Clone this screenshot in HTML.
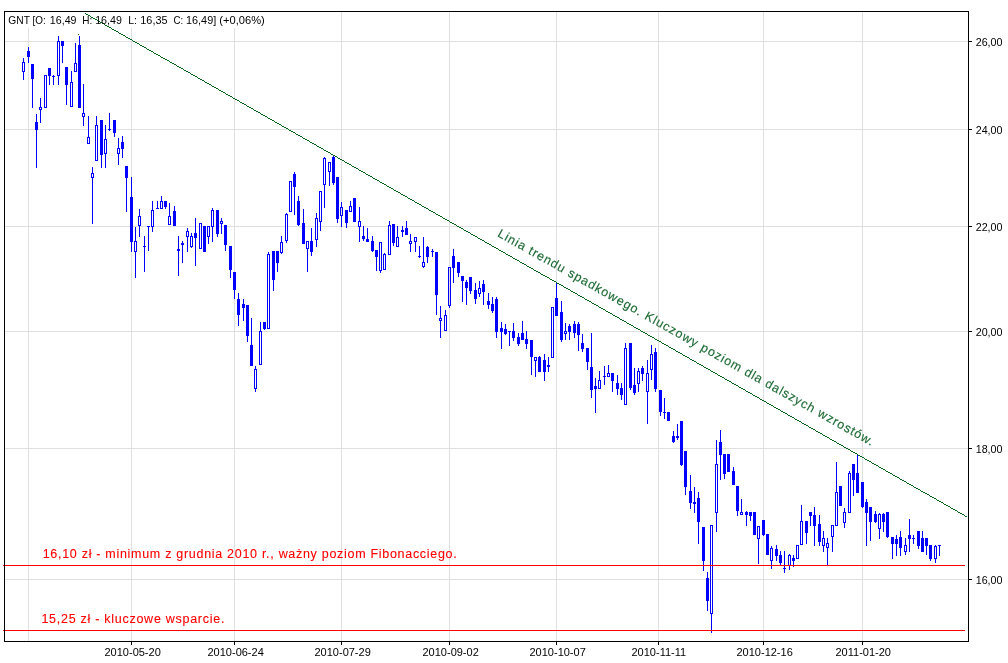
<!DOCTYPE html>
<html><head><meta charset="utf-8"><title>GNT</title>
<style>html,body{margin:0;padding:0;background:#fff;overflow:hidden}body{width:1008px;height:663px;position:relative;font-family:"Liberation Sans",sans-serif}</style>
</head><body>
<svg width="1008" height="663" viewBox="0 0 1008 663" style="position:absolute;left:0;top:0;will-change:transform">
<rect x="0" y="0" width="1008" height="663" fill="#fff"/>
<g shape-rendering="crispEdges" fill="#dfdfdf">
<rect x="5" y="41" width="963" height="1"/>
<rect x="5" y="129" width="963" height="1"/>
<rect x="5" y="226" width="963" height="1"/>
<rect x="5" y="331" width="963" height="1"/>
<rect x="5" y="448" width="963" height="1"/>
<rect x="5" y="579" width="963" height="1"/>
<rect x="28" y="28" width="1" height="613"/>
<rect x="131" y="28" width="1" height="613"/>
<rect x="234" y="28" width="1" height="613"/>
<rect x="341" y="12" width="1" height="629"/>
<rect x="449" y="12" width="1" height="629"/>
<rect x="556" y="12" width="1" height="629"/>
<rect x="658" y="12" width="1" height="629"/>
<rect x="763" y="12" width="1" height="629"/>
<rect x="862" y="12" width="1" height="629"/>
</g>
<rect x="5" y="12" width="262" height="16" fill="#fff"/>
<g shape-rendering="crispEdges" fill="#0000ff">
<rect x="23" y="58" width="1" height="4"/>
<rect x="23" y="72" width="1" height="8"/>
<path d="M22 62h3v10h-3zM23 63v8h1v-8z" fill-rule="evenodd"/>
<rect x="28" y="47" width="1" height="16"/>
<rect x="27" y="51" width="3" height="6"/>
<rect x="32" y="64" width="1" height="44"/>
<rect x="31" y="64" width="3" height="15"/>
<rect x="36" y="114" width="1" height="54"/>
<rect x="35" y="122" width="3" height="8"/>
<rect x="40" y="98" width="1" height="9"/>
<rect x="40" y="110" width="1" height="13"/>
<path d="M39 107h3v3h-3zM40 108v1h1v-1z" fill-rule="evenodd"/>
<path d="M44 75h3v33h-3zM45 76v31h1v-31z" fill-rule="evenodd"/>
<rect x="49" y="68" width="1" height="17"/>
<rect x="48" y="68" width="3" height="8"/>
<rect x="53" y="75" width="1" height="10"/>
<rect x="52" y="76" width="3" height="1"/>
<rect x="58" y="36" width="1" height="5"/>
<rect x="58" y="76" width="1" height="9"/>
<path d="M57 41h3v35h-3zM58 42v33h1v-33z" fill-rule="evenodd"/>
<rect x="62" y="41" width="1" height="22"/>
<rect x="61" y="41" width="3" height="5"/>
<rect x="66" y="67" width="1" height="38"/>
<rect x="65" y="67" width="3" height="18"/>
<rect x="71" y="71" width="1" height="11"/>
<path d="M70 82h3v25h-3zM71 83v23h1v-23z" fill-rule="evenodd"/>
<rect x="75" y="43" width="1" height="20"/>
<path d="M74 63h3v9h-3zM75 64v7h1v-7z" fill-rule="evenodd"/>
<rect x="79" y="36" width="1" height="72"/>
<rect x="78" y="45" width="3" height="63"/>
<rect x="83" y="84" width="1" height="29"/>
<rect x="83" y="117" width="1" height="9"/>
<path d="M82 113h3v4h-3zM83 114v2h1v-2z" fill-rule="evenodd"/>
<rect x="88" y="116" width="1" height="21"/>
<path d="M87 137h3v7h-3zM88 138v5h1v-5z" fill-rule="evenodd"/>
<rect x="92" y="167" width="1" height="6"/>
<rect x="92" y="178" width="1" height="46"/>
<path d="M91 173h3v5h-3zM92 174v3h1v-3z" fill-rule="evenodd"/>
<rect x="96" y="116" width="1" height="9"/>
<path d="M95 125h3v36h-3zM96 126v34h1v-34z" fill-rule="evenodd"/>
<rect x="101" y="120" width="1" height="48"/>
<rect x="100" y="120" width="3" height="35"/>
<rect x="105" y="125" width="1" height="14"/>
<rect x="105" y="154" width="1" height="14"/>
<path d="M104 139h3v15h-3zM105 140v13h1v-13z" fill-rule="evenodd"/>
<rect x="109" y="113" width="1" height="17"/>
<rect x="109" y="130" width="1" height="1"/>
<rect x="108" y="129" width="3" height="1"/>
<rect x="114" y="120" width="1" height="17"/>
<rect x="113" y="120" width="3" height="13"/>
<rect x="118" y="138" width="1" height="10"/>
<rect x="118" y="154" width="1" height="11"/>
<path d="M117 148h3v6h-3zM118 149v4h1v-4z" fill-rule="evenodd"/>
<rect x="122" y="136" width="1" height="22"/>
<rect x="121" y="142" width="3" height="7"/>
<rect x="126" y="166" width="1" height="46"/>
<rect x="125" y="166" width="3" height="12"/>
<rect x="131" y="177" width="1" height="75"/>
<rect x="130" y="197" width="3" height="45"/>
<rect x="135" y="227" width="1" height="14"/>
<rect x="135" y="252" width="1" height="26"/>
<path d="M134 241h3v11h-3zM135 242v9h1v-9z" fill-rule="evenodd"/>
<rect x="139" y="209" width="1" height="7"/>
<rect x="139" y="226" width="1" height="11"/>
<path d="M138 216h3v10h-3zM139 217v8h1v-8z" fill-rule="evenodd"/>
<rect x="144" y="236" width="1" height="36"/>
<rect x="143" y="246" width="3" height="1"/>
<rect x="148" y="226" width="1" height="25"/>
<rect x="147" y="226" width="3" height="1"/>
<rect x="152" y="201" width="1" height="9"/>
<rect x="152" y="227" width="1" height="5"/>
<path d="M151 210h3v17h-3zM152 211v15h1v-15z" fill-rule="evenodd"/>
<rect x="157" y="201" width="1" height="8"/>
<rect x="156" y="208" width="3" height="1"/>
<rect x="161" y="196" width="1" height="5"/>
<path d="M160 201h3v8h-3zM161 202v6h1v-6z" fill-rule="evenodd"/>
<rect x="165" y="201" width="1" height="8"/>
<rect x="164" y="201" width="3" height="6"/>
<rect x="169" y="203" width="1" height="13"/>
<path d="M168 216h3v9h-3zM169 217v7h1v-7z" fill-rule="evenodd"/>
<rect x="174" y="206" width="1" height="20"/>
<rect x="173" y="211" width="3" height="15"/>
<rect x="178" y="236" width="1" height="40"/>
<rect x="177" y="249" width="3" height="2"/>
<rect x="182" y="241" width="1" height="22"/>
<rect x="181" y="243" width="3" height="2"/>
<rect x="187" y="228" width="1" height="3"/>
<rect x="187" y="237" width="1" height="15"/>
<path d="M186 231h3v6h-3zM187 232v4h1v-4z" fill-rule="evenodd"/>
<rect x="191" y="233" width="1" height="3"/>
<rect x="191" y="247" width="1" height="1"/>
<path d="M190 236h3v11h-3zM191 237v9h1v-9z" fill-rule="evenodd"/>
<rect x="195" y="218" width="1" height="48"/>
<rect x="194" y="233" width="3" height="5"/>
<path d="M199 223h3v26h-3zM200 224v24h1v-24z" fill-rule="evenodd"/>
<rect x="204" y="226" width="1" height="26"/>
<rect x="203" y="226" width="3" height="26"/>
<rect x="208" y="237" width="1" height="7"/>
<path d="M207 226h3v11h-3zM208 227v9h1v-9z" fill-rule="evenodd"/>
<rect x="212" y="208" width="1" height="2"/>
<rect x="212" y="227" width="1" height="15"/>
<path d="M211 210h3v17h-3zM212 211v15h1v-15z" fill-rule="evenodd"/>
<rect x="217" y="210" width="1" height="27"/>
<rect x="216" y="210" width="3" height="24"/>
<rect x="221" y="218" width="1" height="3"/>
<rect x="221" y="224" width="1" height="10"/>
<path d="M220 221h3v3h-3zM221 222v1h1v-1z" fill-rule="evenodd"/>
<rect x="225" y="225" width="1" height="26"/>
<rect x="224" y="225" width="3" height="20"/>
<rect x="230" y="246" width="1" height="32"/>
<rect x="229" y="246" width="3" height="24"/>
<rect x="234" y="272" width="1" height="27"/>
<rect x="233" y="272" width="3" height="18"/>
<rect x="238" y="293" width="1" height="33"/>
<rect x="237" y="299" width="3" height="16"/>
<rect x="243" y="299" width="1" height="22"/>
<rect x="242" y="304" width="3" height="4"/>
<rect x="247" y="305" width="1" height="37"/>
<rect x="246" y="305" width="3" height="31"/>
<rect x="251" y="318" width="1" height="48"/>
<rect x="250" y="345" width="3" height="21"/>
<rect x="255" y="366" width="1" height="3"/>
<rect x="255" y="389" width="1" height="3"/>
<path d="M254 369h3v20h-3zM255 370v18h1v-18z" fill-rule="evenodd"/>
<rect x="260" y="322" width="1" height="9"/>
<path d="M259 331h3v34h-3zM260 332v32h1v-32z" fill-rule="evenodd"/>
<rect x="264" y="322" width="1" height="8"/>
<rect x="263" y="322" width="3" height="7"/>
<rect x="268" y="252" width="1" height="2"/>
<path d="M267 254h3v75h-3zM268 255v73h1v-73z" fill-rule="evenodd"/>
<rect x="273" y="251" width="1" height="40"/>
<rect x="272" y="251" width="3" height="29"/>
<rect x="277" y="251" width="1" height="21"/>
<rect x="276" y="251" width="3" height="12"/>
<rect x="281" y="236" width="1" height="6"/>
<rect x="281" y="253" width="1" height="1"/>
<path d="M280 242h3v11h-3zM281 243v9h1v-9z" fill-rule="evenodd"/>
<rect x="286" y="213" width="1" height="1"/>
<rect x="286" y="241" width="1" height="2"/>
<path d="M285 214h3v27h-3zM286 215v25h1v-25z" fill-rule="evenodd"/>
<path d="M289 181h3v31h-3zM290 182v29h1v-29z" fill-rule="evenodd"/>
<rect x="294" y="172" width="1" height="43"/>
<rect x="293" y="174" width="3" height="13"/>
<rect x="298" y="196" width="1" height="30"/>
<rect x="297" y="201" width="3" height="24"/>
<rect x="303" y="209" width="1" height="35"/>
<rect x="302" y="223" width="3" height="21"/>
<rect x="307" y="249" width="1" height="23"/>
<path d="M306 241h3v8h-3zM307 242v6h1v-6z" fill-rule="evenodd"/>
<rect x="311" y="228" width="1" height="28"/>
<rect x="310" y="241" width="3" height="11"/>
<rect x="316" y="213" width="1" height="5"/>
<rect x="316" y="240" width="1" height="7"/>
<path d="M315 218h3v22h-3zM316 219v20h1v-20z" fill-rule="evenodd"/>
<rect x="320" y="222" width="1" height="9"/>
<path d="M319 191h3v31h-3zM320 192v29h1v-29z" fill-rule="evenodd"/>
<rect x="324" y="157" width="1" height="1"/>
<rect x="324" y="185" width="1" height="23"/>
<path d="M323 158h3v27h-3zM324 159v25h1v-25z" fill-rule="evenodd"/>
<rect x="329" y="172" width="1" height="14"/>
<path d="M328 162h3v10h-3zM329 163v8h1v-8z" fill-rule="evenodd"/>
<rect x="333" y="155" width="1" height="30"/>
<rect x="332" y="157" width="3" height="26"/>
<rect x="337" y="177" width="1" height="46"/>
<rect x="336" y="177" width="3" height="42"/>
<rect x="341" y="202" width="1" height="5"/>
<rect x="341" y="216" width="1" height="11"/>
<path d="M340 207h3v9h-3zM341 208v7h1v-7z" fill-rule="evenodd"/>
<rect x="346" y="210" width="1" height="18"/>
<rect x="345" y="210" width="3" height="13"/>
<rect x="350" y="201" width="1" height="5"/>
<path d="M349 206h3v6h-3zM350 207v4h1v-4z" fill-rule="evenodd"/>
<rect x="354" y="198" width="1" height="24"/>
<rect x="353" y="198" width="3" height="24"/>
<rect x="359" y="207" width="1" height="14"/>
<rect x="359" y="227" width="1" height="15"/>
<path d="M358 221h3v6h-3zM359 222v4h1v-4z" fill-rule="evenodd"/>
<rect x="363" y="226" width="1" height="15"/>
<rect x="362" y="236" width="3" height="3"/>
<rect x="367" y="228" width="1" height="14"/>
<rect x="366" y="239" width="3" height="3"/>
<rect x="372" y="236" width="1" height="16"/>
<rect x="371" y="241" width="3" height="10"/>
<rect x="376" y="250" width="1" height="21"/>
<rect x="375" y="250" width="3" height="7"/>
<rect x="380" y="271" width="1" height="2"/>
<path d="M379 242h3v29h-3zM380 243v27h1v-27z" fill-rule="evenodd"/>
<rect x="384" y="253" width="1" height="1"/>
<path d="M383 254h3v16h-3zM384 255v14h1v-14z" fill-rule="evenodd"/>
<rect x="389" y="221" width="1" height="4"/>
<path d="M388 225h3v30h-3zM389 226v28h1v-28z" fill-rule="evenodd"/>
<rect x="393" y="224" width="1" height="22"/>
<rect x="392" y="224" width="3" height="19"/>
<rect x="397" y="226" width="1" height="11"/>
<path d="M396 237h3v10h-3zM397 238v8h1v-8z" fill-rule="evenodd"/>
<rect x="402" y="226" width="1" height="11"/>
<rect x="401" y="230" width="3" height="2"/>
<rect x="406" y="221" width="1" height="14"/>
<rect x="405" y="228" width="3" height="7"/>
<rect x="410" y="234" width="1" height="7"/>
<rect x="410" y="244" width="1" height="8"/>
<path d="M409 241h3v3h-3zM410 242v1h1v-1z" fill-rule="evenodd"/>
<rect x="415" y="242" width="1" height="10"/>
<path d="M414 237h3v5h-3zM415 238v3h1v-3z" fill-rule="evenodd"/>
<rect x="419" y="246" width="1" height="11"/>
<rect x="419" y="257" width="1" height="1"/>
<rect x="418" y="256" width="3" height="1"/>
<rect x="423" y="237" width="1" height="25"/>
<rect x="423" y="267" width="1" height="1"/>
<path d="M422 262h3v5h-3zM423 263v3h1v-3z" fill-rule="evenodd"/>
<rect x="427" y="246" width="1" height="17"/>
<rect x="426" y="247" width="3" height="10"/>
<rect x="432" y="249" width="1" height="8"/>
<rect x="431" y="251" width="3" height="1"/>
<rect x="436" y="252" width="1" height="63"/>
<rect x="435" y="252" width="3" height="43"/>
<rect x="440" y="306" width="1" height="12"/>
<rect x="440" y="321" width="1" height="17"/>
<path d="M439 318h3v3h-3zM440 319v1h1v-1z" fill-rule="evenodd"/>
<rect x="445" y="310" width="1" height="5"/>
<path d="M444 315h3v16h-3zM445 316v14h1v-14z" fill-rule="evenodd"/>
<rect x="449" y="306" width="1" height="2"/>
<path d="M448 267h3v39h-3zM449 268v37h1v-37z" fill-rule="evenodd"/>
<rect x="453" y="249" width="1" height="34"/>
<rect x="452" y="256" width="3" height="12"/>
<rect x="458" y="262" width="1" height="15"/>
<rect x="457" y="262" width="3" height="11"/>
<rect x="462" y="276" width="1" height="26"/>
<rect x="461" y="276" width="3" height="5"/>
<rect x="466" y="280" width="1" height="25"/>
<rect x="465" y="282" width="3" height="6"/>
<rect x="470" y="277" width="1" height="17"/>
<rect x="469" y="277" width="3" height="14"/>
<rect x="475" y="283" width="1" height="21"/>
<rect x="474" y="290" width="3" height="9"/>
<rect x="479" y="281" width="1" height="7"/>
<rect x="479" y="294" width="1" height="3"/>
<path d="M478 288h3v6h-3zM479 289v4h1v-4z" fill-rule="evenodd"/>
<rect x="483" y="280" width="1" height="25"/>
<rect x="482" y="284" width="3" height="8"/>
<rect x="488" y="293" width="1" height="16"/>
<rect x="487" y="301" width="3" height="4"/>
<rect x="492" y="297" width="1" height="16"/>
<rect x="491" y="304" width="3" height="7"/>
<rect x="496" y="297" width="1" height="41"/>
<rect x="495" y="299" width="3" height="33"/>
<rect x="501" y="322" width="1" height="27"/>
<rect x="500" y="328" width="3" height="4"/>
<rect x="505" y="324" width="1" height="11"/>
<rect x="504" y="329" width="3" height="5"/>
<rect x="509" y="331" width="1" height="15"/>
<rect x="508" y="331" width="3" height="1"/>
<rect x="513" y="323" width="1" height="18"/>
<rect x="512" y="331" width="3" height="7"/>
<rect x="518" y="333" width="1" height="13"/>
<rect x="517" y="337" width="3" height="7"/>
<rect x="522" y="321" width="1" height="19"/>
<rect x="521" y="333" width="3" height="7"/>
<rect x="526" y="331" width="1" height="18"/>
<rect x="525" y="339" width="3" height="5"/>
<rect x="531" y="340" width="1" height="35"/>
<rect x="530" y="340" width="3" height="17"/>
<rect x="535" y="361" width="1" height="16"/>
<path d="M534 357h3v4h-3zM535 358v2h1v-2z" fill-rule="evenodd"/>
<rect x="539" y="356" width="1" height="16"/>
<rect x="538" y="357" width="3" height="15"/>
<rect x="544" y="354" width="1" height="27"/>
<rect x="543" y="360" width="3" height="12"/>
<rect x="548" y="357" width="1" height="15"/>
<rect x="547" y="365" width="3" height="2"/>
<path d="M551 307h3v51h-3zM552 308v49h1v-49z" fill-rule="evenodd"/>
<rect x="556" y="283" width="1" height="33"/>
<rect x="555" y="298" width="3" height="18"/>
<rect x="561" y="301" width="1" height="41"/>
<rect x="560" y="312" width="3" height="28"/>
<rect x="565" y="323" width="1" height="8"/>
<rect x="565" y="334" width="1" height="6"/>
<path d="M564 331h3v3h-3zM565 332v1h1v-1z" fill-rule="evenodd"/>
<rect x="569" y="324" width="1" height="16"/>
<rect x="568" y="326" width="3" height="6"/>
<rect x="574" y="321" width="1" height="17"/>
<rect x="573" y="324" width="3" height="9"/>
<rect x="578" y="322" width="1" height="29"/>
<rect x="577" y="324" width="3" height="11"/>
<rect x="582" y="334" width="1" height="18"/>
<rect x="581" y="343" width="3" height="6"/>
<rect x="587" y="348" width="1" height="22"/>
<rect x="586" y="348" width="3" height="14"/>
<rect x="591" y="333" width="1" height="65"/>
<rect x="590" y="367" width="3" height="23"/>
<rect x="595" y="378" width="1" height="35"/>
<rect x="594" y="386" width="3" height="3"/>
<rect x="599" y="371" width="1" height="9"/>
<path d="M598 380h3v9h-3zM599 381v7h1v-7z" fill-rule="evenodd"/>
<rect x="604" y="366" width="1" height="19"/>
<rect x="603" y="376" width="3" height="1"/>
<rect x="608" y="365" width="1" height="8"/>
<path d="M607 373h3v4h-3zM608 374v2h1v-2z" fill-rule="evenodd"/>
<rect x="612" y="373" width="1" height="19"/>
<rect x="611" y="373" width="3" height="8"/>
<rect x="617" y="375" width="1" height="20"/>
<rect x="616" y="383" width="3" height="6"/>
<rect x="621" y="383" width="1" height="17"/>
<rect x="620" y="388" width="3" height="7"/>
<rect x="625" y="343" width="1" height="5"/>
<path d="M624 348h3v57h-3zM625 349v55h1v-55z" fill-rule="evenodd"/>
<rect x="630" y="343" width="1" height="47"/>
<rect x="629" y="343" width="3" height="45"/>
<rect x="634" y="368" width="1" height="27"/>
<rect x="633" y="385" width="3" height="8"/>
<rect x="638" y="368" width="1" height="3"/>
<rect x="638" y="384" width="1" height="8"/>
<path d="M637 371h3v13h-3zM638 372v11h1v-11z" fill-rule="evenodd"/>
<rect x="642" y="366" width="1" height="15"/>
<rect x="641" y="368" width="3" height="6"/>
<rect x="647" y="360" width="1" height="13"/>
<rect x="647" y="392" width="1" height="32"/>
<path d="M646 373h3v19h-3zM647 374v17h1v-17z" fill-rule="evenodd"/>
<rect x="651" y="345" width="1" height="9"/>
<rect x="651" y="370" width="1" height="10"/>
<path d="M650 354h3v16h-3zM651 355v14h1v-14z" fill-rule="evenodd"/>
<rect x="655" y="348" width="1" height="44"/>
<rect x="654" y="352" width="3" height="37"/>
<rect x="660" y="390" width="1" height="26"/>
<rect x="659" y="390" width="3" height="22"/>
<rect x="664" y="398" width="1" height="21"/>
<rect x="663" y="412" width="3" height="1"/>
<rect x="668" y="412" width="1" height="9"/>
<rect x="667" y="412" width="3" height="9"/>
<rect x="673" y="431" width="1" height="12"/>
<rect x="672" y="436" width="3" height="6"/>
<rect x="677" y="424" width="1" height="16"/>
<rect x="676" y="436" width="3" height="2"/>
<rect x="681" y="421" width="1" height="45"/>
<rect x="680" y="421" width="3" height="44"/>
<rect x="685" y="451" width="1" height="44"/>
<rect x="684" y="451" width="3" height="36"/>
<rect x="690" y="475" width="1" height="34"/>
<rect x="689" y="491" width="3" height="12"/>
<rect x="694" y="487" width="1" height="26"/>
<rect x="693" y="502" width="3" height="2"/>
<rect x="698" y="492" width="1" height="52"/>
<rect x="697" y="498" width="3" height="24"/>
<rect x="703" y="527" width="1" height="44"/>
<rect x="702" y="527" width="3" height="34"/>
<rect x="707" y="572" width="1" height="39"/>
<rect x="706" y="578" width="3" height="23"/>
<rect x="711" y="614" width="1" height="19"/>
<path d="M710 525h3v89h-3zM711 526v87h1v-87z" fill-rule="evenodd"/>
<rect x="716" y="440" width="1" height="24"/>
<rect x="716" y="513" width="1" height="19"/>
<path d="M715 464h3v49h-3zM716 465v47h1v-47z" fill-rule="evenodd"/>
<rect x="720" y="430" width="1" height="50"/>
<rect x="719" y="442" width="3" height="13"/>
<rect x="724" y="454" width="1" height="25"/>
<rect x="723" y="454" width="3" height="20"/>
<rect x="728" y="454" width="1" height="18"/>
<rect x="727" y="454" width="3" height="18"/>
<rect x="733" y="467" width="1" height="18"/>
<rect x="732" y="471" width="3" height="14"/>
<rect x="737" y="486" width="1" height="30"/>
<rect x="736" y="486" width="3" height="25"/>
<rect x="741" y="499" width="1" height="13"/>
<path d="M740 512h3v3h-3zM741 513v1h1v-1z" fill-rule="evenodd"/>
<rect x="746" y="511" width="1" height="15"/>
<rect x="745" y="512" width="3" height="3"/>
<rect x="750" y="512" width="1" height="9"/>
<rect x="749" y="512" width="3" height="4"/>
<rect x="754" y="512" width="1" height="23"/>
<rect x="753" y="512" width="3" height="23"/>
<rect x="758" y="539" width="1" height="25"/>
<path d="M757 526h3v13h-3zM758 527v11h1v-11z" fill-rule="evenodd"/>
<rect x="763" y="520" width="1" height="16"/>
<rect x="762" y="520" width="3" height="15"/>
<rect x="767" y="534" width="1" height="21"/>
<rect x="766" y="534" width="3" height="21"/>
<rect x="771" y="546" width="1" height="2"/>
<rect x="771" y="561" width="1" height="8"/>
<path d="M770 548h3v13h-3zM771 549v11h1v-11z" fill-rule="evenodd"/>
<rect x="776" y="545" width="1" height="16"/>
<rect x="775" y="549" width="3" height="7"/>
<rect x="780" y="551" width="1" height="14"/>
<rect x="779" y="555" width="3" height="8"/>
<rect x="784" y="551" width="1" height="22"/>
<rect x="783" y="568" width="3" height="1"/>
<rect x="789" y="554" width="1" height="1"/>
<rect x="789" y="566" width="1" height="4"/>
<path d="M788 555h3v11h-3zM789 556v9h1v-9z" fill-rule="evenodd"/>
<rect x="793" y="555" width="1" height="12"/>
<rect x="792" y="558" width="3" height="3"/>
<path d="M796 545h3v14h-3zM797 546v12h1v-12z" fill-rule="evenodd"/>
<rect x="801" y="505" width="1" height="16"/>
<path d="M800 521h3v24h-3zM801 522v22h1v-22z" fill-rule="evenodd"/>
<rect x="806" y="521" width="1" height="23"/>
<rect x="805" y="521" width="3" height="12"/>
<rect x="810" y="512" width="1" height="14"/>
<rect x="809" y="512" width="3" height="4"/>
<rect x="814" y="507" width="1" height="39"/>
<rect x="813" y="515" width="3" height="11"/>
<rect x="819" y="515" width="1" height="31"/>
<rect x="818" y="524" width="3" height="18"/>
<rect x="823" y="531" width="1" height="7"/>
<rect x="823" y="546" width="1" height="6"/>
<path d="M822 538h3v8h-3zM823 539v6h1v-6z" fill-rule="evenodd"/>
<rect x="827" y="538" width="1" height="5"/>
<rect x="827" y="548" width="1" height="17"/>
<path d="M826 543h3v5h-3zM827 544v3h1v-3z" fill-rule="evenodd"/>
<rect x="832" y="537" width="1" height="15"/>
<path d="M831 525h3v12h-3zM832 526v10h1v-10z" fill-rule="evenodd"/>
<rect x="836" y="462" width="1" height="30"/>
<path d="M835 492h3v34h-3zM836 493v32h1v-32z" fill-rule="evenodd"/>
<rect x="840" y="486" width="1" height="20"/>
<rect x="839" y="486" width="3" height="20"/>
<rect x="844" y="508" width="1" height="4"/>
<rect x="844" y="523" width="1" height="5"/>
<path d="M843 512h3v11h-3zM844 513v9h1v-9z" fill-rule="evenodd"/>
<rect x="849" y="471" width="1" height="2"/>
<path d="M848 473h3v40h-3zM849 474v38h1v-38z" fill-rule="evenodd"/>
<rect x="853" y="464" width="1" height="32"/>
<rect x="852" y="464" width="3" height="16"/>
<rect x="857" y="454" width="1" height="39"/>
<rect x="856" y="473" width="3" height="20"/>
<rect x="862" y="482" width="1" height="26"/>
<rect x="861" y="482" width="3" height="25"/>
<rect x="866" y="499" width="1" height="47"/>
<rect x="865" y="502" width="3" height="11"/>
<rect x="870" y="507" width="1" height="34"/>
<rect x="869" y="507" width="3" height="15"/>
<rect x="875" y="511" width="1" height="12"/>
<rect x="874" y="514" width="3" height="8"/>
<rect x="879" y="513" width="1" height="1"/>
<rect x="879" y="529" width="1" height="10"/>
<path d="M878 514h3v15h-3zM879 515v13h1v-13z" fill-rule="evenodd"/>
<rect x="883" y="513" width="1" height="19"/>
<rect x="882" y="514" width="3" height="8"/>
<rect x="887" y="512" width="1" height="26"/>
<rect x="886" y="512" width="3" height="25"/>
<rect x="892" y="537" width="1" height="22"/>
<rect x="891" y="537" width="3" height="7"/>
<rect x="896" y="535" width="1" height="21"/>
<rect x="895" y="539" width="3" height="5"/>
<rect x="900" y="531" width="1" height="25"/>
<rect x="899" y="537" width="3" height="11"/>
<rect x="905" y="538" width="1" height="7"/>
<rect x="905" y="552" width="1" height="3"/>
<path d="M904 545h3v7h-3zM905 546v5h1v-5z" fill-rule="evenodd"/>
<rect x="909" y="519" width="1" height="33"/>
<rect x="908" y="535" width="3" height="4"/>
<rect x="913" y="535" width="1" height="9"/>
<rect x="912" y="538" width="3" height="1"/>
<rect x="918" y="531" width="1" height="18"/>
<rect x="917" y="531" width="3" height="15"/>
<rect x="922" y="531" width="1" height="21"/>
<rect x="921" y="538" width="3" height="14"/>
<rect x="926" y="538" width="1" height="17"/>
<rect x="925" y="538" width="3" height="8"/>
<rect x="930" y="545" width="1" height="16"/>
<rect x="929" y="545" width="3" height="14"/>
<rect x="935" y="545" width="1" height="1"/>
<rect x="935" y="559" width="1" height="4"/>
<path d="M934 546h3v13h-3zM935 547v11h1v-11z" fill-rule="evenodd"/>
<rect x="939" y="545" width="1" height="11"/>
<rect x="938" y="545" width="3" height="1"/>
</g>
<path d="M85 13h1v1h-1zM86 14h2v1h-2zM88 15h2v1h-2zM90 16h1v1h-1zM91 17h2v1h-2zM93 18h2v1h-2zM95 19h2v1h-2zM97 20h1v1h-1zM98 21h2v1h-2zM100 22h2v1h-2zM102 23h2v1h-2zM104 24h1v1h-1zM105 25h2v1h-2zM107 26h2v1h-2zM109 27h2v1h-2zM111 28h1v1h-1zM112 29h2v1h-2zM114 30h2v1h-2zM116 31h2v1h-2zM118 32h1v1h-1zM119 33h2v1h-2zM121 34h2v1h-2zM123 35h2v1h-2zM125 36h1v1h-1zM126 37h2v1h-2zM128 38h2v1h-2zM130 39h2v1h-2zM132 40h1v1h-1zM133 41h2v1h-2zM135 42h2v1h-2zM137 43h2v1h-2zM139 44h1v1h-1zM140 45h2v1h-2zM142 46h2v1h-2zM144 47h2v1h-2zM146 48h1v1h-1zM147 49h2v1h-2zM149 50h2v1h-2zM151 51h2v1h-2zM153 52h1v1h-1zM154 53h2v1h-2zM156 54h2v1h-2zM158 55h2v1h-2zM160 56h1v1h-1zM161 57h2v1h-2zM163 58h2v1h-2zM165 59h2v1h-2zM167 60h2v1h-2zM169 61h1v1h-1zM170 62h2v1h-2zM172 63h2v1h-2zM174 64h2v1h-2zM176 65h1v1h-1zM177 66h2v1h-2zM179 67h2v1h-2zM181 68h2v1h-2zM183 69h1v1h-1zM184 70h2v1h-2zM186 71h2v1h-2zM188 72h2v1h-2zM190 73h1v1h-1zM191 74h2v1h-2zM193 75h2v1h-2zM195 76h2v1h-2zM197 77h1v1h-1zM198 78h2v1h-2zM200 79h2v1h-2zM202 80h2v1h-2zM204 81h1v1h-1zM205 82h2v1h-2zM207 83h2v1h-2zM209 84h2v1h-2zM211 85h1v1h-1zM212 86h2v1h-2zM214 87h2v1h-2zM216 88h2v1h-2zM218 89h1v1h-1zM219 90h2v1h-2zM221 91h2v1h-2zM223 92h2v1h-2zM225 93h1v1h-1zM226 94h2v1h-2zM228 95h2v1h-2zM230 96h2v1h-2zM232 97h1v1h-1zM233 98h2v1h-2zM235 99h2v1h-2zM237 100h2v1h-2zM239 101h1v1h-1zM240 102h2v1h-2zM242 103h2v1h-2zM244 104h2v1h-2zM246 105h1v1h-1zM247 106h2v1h-2zM249 107h2v1h-2zM251 108h2v1h-2zM253 109h1v1h-1zM254 110h2v1h-2zM256 111h2v1h-2zM258 112h2v1h-2zM260 113h1v1h-1zM261 114h2v1h-2zM263 115h2v1h-2zM265 116h2v1h-2zM267 117h1v1h-1zM268 118h2v1h-2zM270 119h2v1h-2zM272 120h2v1h-2zM274 121h1v1h-1zM275 122h2v1h-2zM277 123h2v1h-2zM279 124h2v1h-2zM281 125h1v1h-1zM282 126h2v1h-2zM284 127h2v1h-2zM286 128h2v1h-2zM288 129h1v1h-1zM289 130h2v1h-2zM291 131h2v1h-2zM293 132h2v1h-2zM295 133h1v1h-1zM296 134h2v1h-2zM298 135h2v1h-2zM300 136h2v1h-2zM302 137h1v1h-1zM303 138h2v1h-2zM305 139h2v1h-2zM307 140h2v1h-2zM309 141h1v1h-1zM310 142h2v1h-2zM312 143h2v1h-2zM314 144h2v1h-2zM316 145h1v1h-1zM317 146h2v1h-2zM319 147h2v1h-2zM321 148h2v1h-2zM323 149h1v1h-1zM324 150h2v1h-2zM326 151h2v1h-2zM328 152h2v1h-2zM330 153h1v1h-1zM331 154h2v1h-2zM333 155h2v1h-2zM335 156h2v1h-2zM337 157h1v1h-1zM338 158h2v1h-2zM340 159h2v1h-2zM342 160h2v1h-2zM344 161h1v1h-1zM345 162h2v1h-2zM347 163h2v1h-2zM349 164h2v1h-2zM351 165h1v1h-1zM352 166h2v1h-2zM354 167h2v1h-2zM356 168h2v1h-2zM358 169h1v1h-1zM359 170h2v1h-2zM361 171h2v1h-2zM363 172h2v1h-2zM365 173h1v1h-1zM366 174h2v1h-2zM368 175h2v1h-2zM370 176h2v1h-2zM372 177h1v1h-1zM373 178h2v1h-2zM375 179h2v1h-2zM377 180h2v1h-2zM379 181h1v1h-1zM380 182h2v1h-2zM382 183h2v1h-2zM384 184h2v1h-2zM386 185h1v1h-1zM387 186h2v1h-2zM389 187h2v1h-2zM391 188h2v1h-2zM393 189h1v1h-1zM394 190h2v1h-2zM396 191h2v1h-2zM398 192h2v1h-2zM400 193h1v1h-1zM401 194h2v1h-2zM403 195h2v1h-2zM405 196h2v1h-2zM407 197h1v1h-1zM408 198h2v1h-2zM410 199h2v1h-2zM412 200h2v1h-2zM414 201h1v1h-1zM415 202h2v1h-2zM417 203h2v1h-2zM419 204h2v1h-2zM421 205h1v1h-1zM422 206h2v1h-2zM424 207h2v1h-2zM426 208h2v1h-2zM428 209h1v1h-1zM429 210h2v1h-2zM431 211h2v1h-2zM433 212h2v1h-2zM435 213h1v1h-1zM436 214h2v1h-2zM438 215h2v1h-2zM440 216h2v1h-2zM442 217h1v1h-1zM443 218h2v1h-2zM445 219h2v1h-2zM447 220h2v1h-2zM449 221h1v1h-1zM450 222h2v1h-2zM452 223h2v1h-2zM454 224h2v1h-2zM456 225h1v1h-1zM457 226h2v1h-2zM459 227h2v1h-2zM461 228h2v1h-2zM463 229h1v1h-1zM464 230h2v1h-2zM466 231h2v1h-2zM468 232h2v1h-2zM470 233h1v1h-1zM471 234h2v1h-2zM473 235h2v1h-2zM475 236h2v1h-2zM477 237h1v1h-1zM478 238h2v1h-2zM480 239h2v1h-2zM482 240h2v1h-2zM484 241h1v1h-1zM485 242h2v1h-2zM487 243h2v1h-2zM489 244h2v1h-2zM491 245h1v1h-1zM492 246h2v1h-2zM494 247h2v1h-2zM496 248h2v1h-2zM498 249h1v1h-1zM499 250h2v1h-2zM501 251h2v1h-2zM503 252h2v1h-2zM505 253h1v1h-1zM506 254h2v1h-2zM508 255h2v1h-2zM510 256h2v1h-2zM512 257h1v1h-1zM513 258h2v1h-2zM515 259h2v1h-2zM517 260h2v1h-2zM519 261h1v1h-1zM520 262h2v1h-2zM522 263h2v1h-2zM524 264h2v1h-2zM526 265h1v1h-1zM527 266h2v1h-2zM529 267h2v1h-2zM531 268h2v1h-2zM533 269h1v1h-1zM534 270h2v1h-2zM536 271h2v1h-2zM538 272h2v1h-2zM540 273h1v1h-1zM541 274h2v1h-2zM543 275h2v1h-2zM545 276h2v1h-2zM547 277h2v1h-2zM549 278h1v1h-1zM550 279h2v1h-2zM552 280h2v1h-2zM554 281h2v1h-2zM556 282h1v1h-1zM557 283h2v1h-2zM559 284h2v1h-2zM561 285h2v1h-2zM563 286h1v1h-1zM564 287h2v1h-2zM566 288h2v1h-2zM568 289h2v1h-2zM570 290h1v1h-1zM571 291h2v1h-2zM573 292h2v1h-2zM575 293h2v1h-2zM577 294h1v1h-1zM578 295h2v1h-2zM580 296h2v1h-2zM582 297h2v1h-2zM584 298h1v1h-1zM585 299h2v1h-2zM587 300h2v1h-2zM589 301h2v1h-2zM591 302h1v1h-1zM592 303h2v1h-2zM594 304h2v1h-2zM596 305h2v1h-2zM598 306h1v1h-1zM599 307h2v1h-2zM601 308h2v1h-2zM603 309h2v1h-2zM605 310h1v1h-1zM606 311h2v1h-2zM608 312h2v1h-2zM610 313h2v1h-2zM612 314h1v1h-1zM613 315h2v1h-2zM615 316h2v1h-2zM617 317h2v1h-2zM619 318h1v1h-1zM620 319h2v1h-2zM622 320h2v1h-2zM624 321h2v1h-2zM626 322h1v1h-1zM627 323h2v1h-2zM629 324h2v1h-2zM631 325h2v1h-2zM633 326h1v1h-1zM634 327h2v1h-2zM636 328h2v1h-2zM638 329h2v1h-2zM640 330h1v1h-1zM641 331h2v1h-2zM643 332h2v1h-2zM645 333h2v1h-2zM647 334h1v1h-1zM648 335h2v1h-2zM650 336h2v1h-2zM652 337h2v1h-2zM654 338h1v1h-1zM655 339h2v1h-2zM657 340h2v1h-2zM659 341h2v1h-2zM661 342h1v1h-1zM662 343h2v1h-2zM664 344h2v1h-2zM666 345h2v1h-2zM668 346h1v1h-1zM669 347h2v1h-2zM671 348h2v1h-2zM673 349h2v1h-2zM675 350h1v1h-1zM676 351h2v1h-2zM678 352h2v1h-2zM680 353h2v1h-2zM682 354h1v1h-1zM683 355h2v1h-2zM685 356h2v1h-2zM687 357h2v1h-2zM689 358h1v1h-1zM690 359h2v1h-2zM692 360h2v1h-2zM694 361h2v1h-2zM696 362h1v1h-1zM697 363h2v1h-2zM699 364h2v1h-2zM701 365h2v1h-2zM703 366h1v1h-1zM704 367h2v1h-2zM706 368h2v1h-2zM708 369h2v1h-2zM710 370h1v1h-1zM711 371h2v1h-2zM713 372h2v1h-2zM715 373h2v1h-2zM717 374h1v1h-1zM718 375h2v1h-2zM720 376h2v1h-2zM722 377h2v1h-2zM724 378h1v1h-1zM725 379h2v1h-2zM727 380h2v1h-2zM729 381h2v1h-2zM731 382h1v1h-1zM732 383h2v1h-2zM734 384h2v1h-2zM736 385h2v1h-2zM738 386h1v1h-1zM739 387h2v1h-2zM741 388h2v1h-2zM743 389h2v1h-2zM745 390h1v1h-1zM746 391h2v1h-2zM748 392h2v1h-2zM750 393h2v1h-2zM752 394h1v1h-1zM753 395h2v1h-2zM755 396h2v1h-2zM757 397h2v1h-2zM759 398h1v1h-1zM760 399h2v1h-2zM762 400h2v1h-2zM764 401h2v1h-2zM766 402h1v1h-1zM767 403h2v1h-2zM769 404h2v1h-2zM771 405h2v1h-2zM773 406h1v1h-1zM774 407h2v1h-2zM776 408h2v1h-2zM778 409h2v1h-2zM780 410h1v1h-1zM781 411h2v1h-2zM783 412h2v1h-2zM785 413h2v1h-2zM787 414h1v1h-1zM788 415h2v1h-2zM790 416h2v1h-2zM792 417h2v1h-2zM794 418h1v1h-1zM795 419h2v1h-2zM797 420h2v1h-2zM799 421h2v1h-2zM801 422h1v1h-1zM802 423h2v1h-2zM804 424h2v1h-2zM806 425h2v1h-2zM808 426h1v1h-1zM809 427h2v1h-2zM811 428h2v1h-2zM813 429h2v1h-2zM815 430h1v1h-1zM816 431h2v1h-2zM818 432h2v1h-2zM820 433h2v1h-2zM822 434h1v1h-1zM823 435h2v1h-2zM825 436h2v1h-2zM827 437h2v1h-2zM829 438h1v1h-1zM830 439h2v1h-2zM832 440h2v1h-2zM834 441h2v1h-2zM836 442h1v1h-1zM837 443h2v1h-2zM839 444h2v1h-2zM841 445h2v1h-2zM843 446h1v1h-1zM844 447h2v1h-2zM846 448h2v1h-2zM848 449h2v1h-2zM850 450h1v1h-1zM851 451h2v1h-2zM853 452h2v1h-2zM855 453h2v1h-2zM857 454h1v1h-1zM858 455h2v1h-2zM860 456h2v1h-2zM862 457h2v1h-2zM864 458h1v1h-1zM865 459h2v1h-2zM867 460h2v1h-2zM869 461h2v1h-2zM871 462h1v1h-1zM872 463h2v1h-2zM874 464h2v1h-2zM876 465h2v1h-2zM878 466h1v1h-1zM879 467h2v1h-2zM881 468h2v1h-2zM883 469h2v1h-2zM885 470h1v1h-1zM886 471h2v1h-2zM888 472h2v1h-2zM890 473h2v1h-2zM892 474h1v1h-1zM893 475h2v1h-2zM895 476h2v1h-2zM897 477h2v1h-2zM899 478h1v1h-1zM900 479h2v1h-2zM902 480h2v1h-2zM904 481h2v1h-2zM906 482h1v1h-1zM907 483h2v1h-2zM909 484h2v1h-2zM911 485h2v1h-2zM913 486h1v1h-1zM914 487h2v1h-2zM916 488h2v1h-2zM918 489h2v1h-2zM920 490h1v1h-1zM921 491h2v1h-2zM923 492h2v1h-2zM925 493h2v1h-2zM927 494h2v1h-2zM929 495h1v1h-1zM930 496h2v1h-2zM932 497h2v1h-2zM934 498h2v1h-2zM936 499h1v1h-1zM937 500h2v1h-2zM939 501h2v1h-2zM941 502h2v1h-2zM943 503h1v1h-1zM944 504h2v1h-2zM946 505h2v1h-2zM948 506h2v1h-2zM950 507h1v1h-1zM951 508h2v1h-2zM953 509h2v1h-2zM955 510h2v1h-2zM957 511h1v1h-1zM958 512h2v1h-2zM960 513h2v1h-2zM962 514h2v1h-2zM964 515h1v1h-1zM965 516h2v1h-2z" fill="#00641a" shape-rendering="crispEdges"/>
<rect x="78" y="34" width="1" height="1" fill="#00641a"/>
<g shape-rendering="crispEdges" fill="#ff0000">
<rect x="3" y="565" width="962" height="1"/>
<rect x="3" y="630" width="962" height="1"/>
</g>
<g shape-rendering="crispEdges" fill="#000">
<rect x="4" y="11" width="965" height="1"/>
<rect x="4" y="641" width="965" height="1"/>
<rect x="4" y="11" width="1" height="631"/>
<rect x="968" y="11" width="1" height="631"/>
<rect x="969" y="41" width="3" height="1"/>
<rect x="969" y="129" width="3" height="1"/>
<rect x="969" y="226" width="3" height="1"/>
<rect x="969" y="331" width="3" height="1"/>
<rect x="969" y="448" width="3" height="1"/>
<rect x="969" y="579" width="3" height="1"/>
<rect x="131" y="642" width="1" height="3"/>
<rect x="234" y="642" width="1" height="3"/>
<rect x="341" y="642" width="1" height="3"/>
<rect x="449" y="642" width="1" height="3"/>
<rect x="556" y="642" width="1" height="3"/>
<rect x="658" y="642" width="1" height="3"/>
<rect x="763" y="642" width="1" height="3"/>
<rect x="862" y="642" width="1" height="3"/>
</g>
<g font-family="Liberation Sans, sans-serif" font-size="11px" fill="#000">
<text x="8.3" y="24" textLength="21.6" lengthAdjust="spacingAndGlyphs">GNT</text>
<text x="32.5" y="24" textLength="13.2" lengthAdjust="spacingAndGlyphs">[O:</text>
<text x="49.8" y="24" textLength="26.7" lengthAdjust="spacingAndGlyphs">16,49</text>
<text x="82.3" y="24" textLength="10" lengthAdjust="spacingAndGlyphs">H:</text>
<text x="95.2" y="24" textLength="26.7" lengthAdjust="spacingAndGlyphs">16,49</text>
<text x="128.2" y="24" textLength="8.8" lengthAdjust="spacingAndGlyphs">L:</text>
<text x="140.3" y="24" textLength="27.2" lengthAdjust="spacingAndGlyphs">16,35</text>
<text x="173.6" y="24" textLength="9.7" lengthAdjust="spacingAndGlyphs">C:</text>
<text x="186" y="24" textLength="30.2" lengthAdjust="spacingAndGlyphs">16,49]</text>
<text x="219.3" y="24" textLength="45.5" lengthAdjust="spacingAndGlyphs">(+0,06%)</text>
<text x="975.7" y="46" textLength="26.8" lengthAdjust="spacingAndGlyphs">26,00</text>
<text x="975.7" y="134" textLength="26.8" lengthAdjust="spacingAndGlyphs">24,00</text>
<text x="975.7" y="231" textLength="26.8" lengthAdjust="spacingAndGlyphs">22,00</text>
<text x="975.7" y="336" textLength="26.8" lengthAdjust="spacingAndGlyphs">20,00</text>
<text x="975.7" y="453" textLength="26.8" lengthAdjust="spacingAndGlyphs">18,00</text>
<text x="975.7" y="584" textLength="26.8" lengthAdjust="spacingAndGlyphs">16,00</text>
<text x="104.5" y="656">2010-05-20</text>
<text x="207.5" y="656">2010-06-24</text>
<text x="314.5" y="656">2010-07-29</text>
<text x="422.5" y="656">2010-09-02</text>
<text x="529.5" y="656">2010-10-07</text>
<text x="631.5" y="656">2010-11-11</text>
<text x="736.5" y="656">2010-12-16</text>
<text x="835.5" y="656">2011-01-20</text>
</g>
<g font-family="Liberation Sans, sans-serif" font-size="12.5px" fill="#ff0000" stroke="#ff0000" stroke-width="0.1">
<text x="42.7" y="558" textLength="414" lengthAdjust="spacing">16,10 zł - minimum z grudnia 2010 r., ważny poziom Fibonacciego.</text>
<text x="41.4" y="623" textLength="183" lengthAdjust="spacing">15,25 zł - kluczowe wsparcie.</text>
</g>
<g font-family="Liberation Sans, sans-serif" font-size="12.5px" fill="#1e6b36" stroke="#1e6b36" stroke-width="0.15">
<text x="0" y="0" transform="translate(496.8,236.0) rotate(29.3)" textLength="429" lengthAdjust="spacing">Linia trendu spadkowego. Kluczowy poziom dla dalszych wzrostów.</text>
</g>
</svg>
</body></html>
